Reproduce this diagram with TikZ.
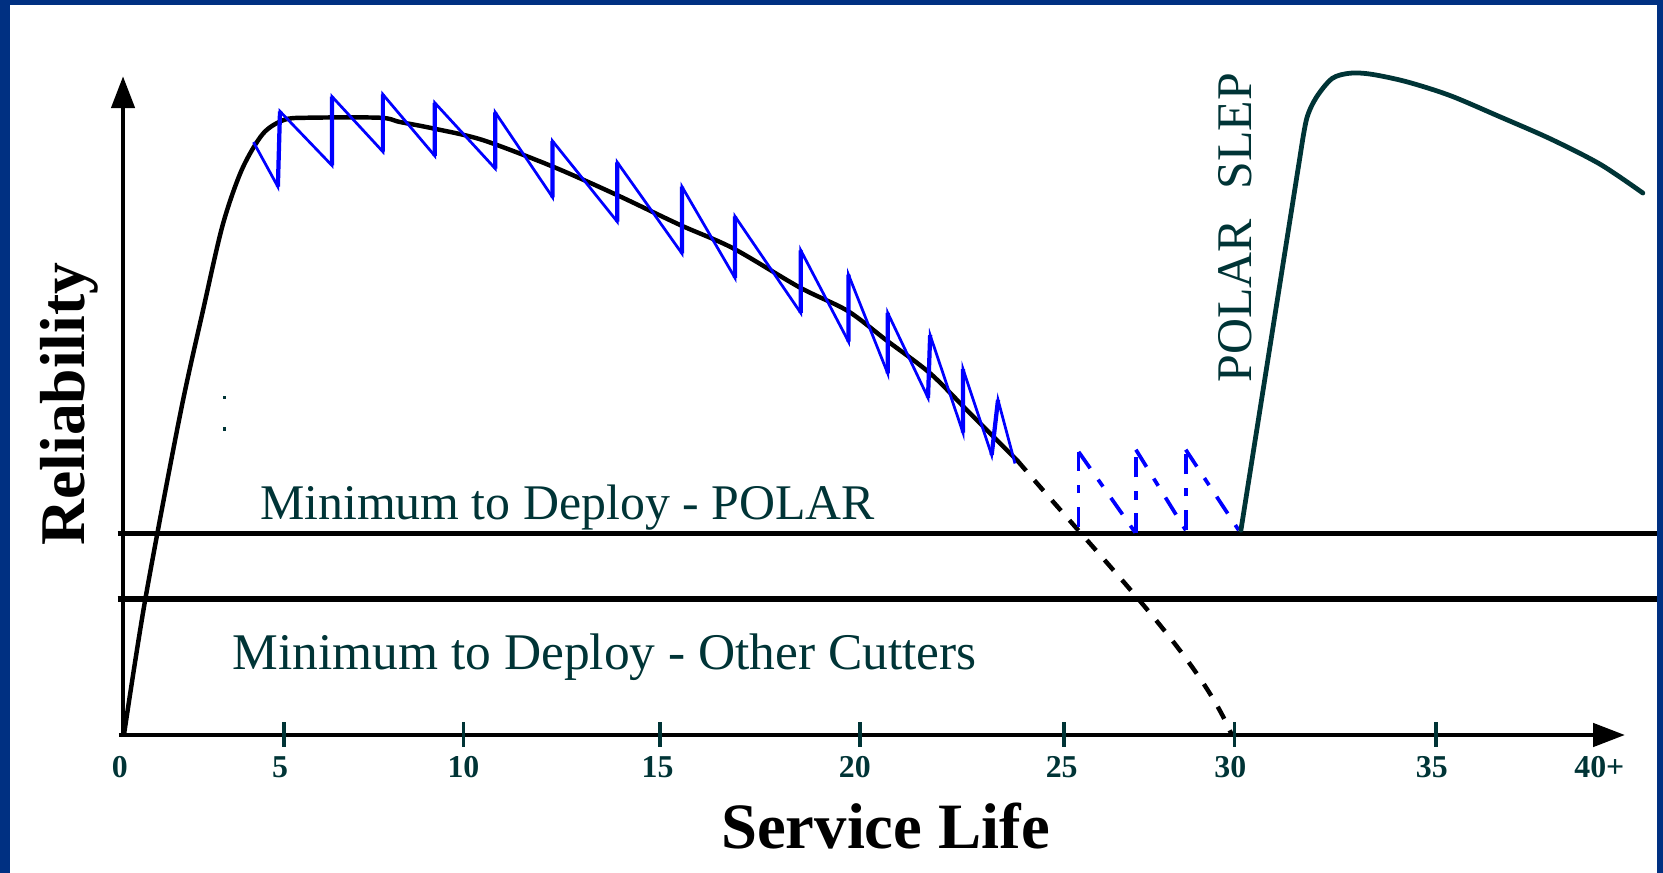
\documentclass[tikz,border=0pt]{standalone}
\usepackage{fontspec}
\setmainfont{Liberation Serif}
\usetikzlibrary{arrows.meta}
\definecolor{navyframe}{RGB}{0,48,130}
\definecolor{darkteal}{RGB}{0,52,54}
\definecolor{pureblue}{RGB}{0,0,255}
\begin{document}
\begin{tikzpicture}[x=1pt,y=-1pt,
  axisline/.style={line width=3.5pt,black},
  minline/.style={line width=5.5pt,black},
  tickmark/.style={line width=3.5pt,darkteal},
  ticklabel/.style={font=\fontsize{30}{32}\selectfont\bfseries,text=darkteal,anchor=base,inner sep=0pt},
  mintext/.style={font=\fontsize{47}{50}\selectfont,text=darkteal,anchor=base west,inner sep=0pt},
  lifecurve/.style={line width=4.2pt,black,line join=round,line cap=round},
  lifedash/.style={line width=4.2pt,black,dash pattern=on 13pt off 12pt},
  saw/.style={line width=2.6pt,pureblue,line join=miter},
  sawup/.style={line width=4pt,pureblue},
  sawdash/.style={line width=3.5pt,pureblue,dash pattern=on 19pt off 13pt on 8pt off 13pt},
  slep/.style={line width=4.5pt,darkteal,line join=round,line cap=round},
  arrowtip/.style={-{Triangle[length=30pt,width=22pt]}}
]
\useasboundingbox (0,0) rectangle (1568,823);
% frame
\fill[navyframe] (0,0) rectangle (9,823);
\fill[navyframe] (0,0) rectangle (1568,5);
\fill[navyframe] (1562,0) rectangle (1568,823);

% axes
\coordinate (O) at (116,693);
\coordinate (ytop) at (116,72);
\coordinate (xend) at (1532,693);
\coordinate (xstart) at (112,693);
\draw[axisline,arrowtip] (116,695) -- (ytop);
\draw[axisline,arrowtip] (xstart) -- (xend);

% minimum lines
\coordinate (pa) at (111,503);
\coordinate (pb) at (1562,503);
\coordinate (oa) at (111,565);
\coordinate (ob) at (1562,565);
\draw[minline] (pa) -- (pb);
\draw[minline] (oa) -- (ob);

% ticks
\foreach \x in {268,437,622,811,1003,1164,1354}
  \draw[tickmark] (\x,681) -- (\x,704);

% tick labels
\node[ticklabel] (t0) at (113,733) {0};
\node[ticklabel] (t5) at (264,733) {5};
\node[ticklabel] (t10) at (437,733) {10};
\node[ticklabel] (t15) at (620,733) {15};
\node[ticklabel] (t20) at (806,733) {20};
\node[ticklabel] (t25) at (1001,733) {25};
\node[ticklabel] (t30) at (1160,733) {30};
\node[ticklabel] (t35) at (1350,733) {35};
\node[ticklabel] (t40) at (1508,733) {40+};

% axis titles
\node[font=\fontsize{61}{64}\selectfont\bfseries,anchor=base,inner sep=0pt] (xt) at (835,800) {Service Life};
\node[font=\fontsize{60}{64}\selectfont\bfseries,anchor=base,rotate=90,inner sep=0pt] (yt) at (80,381) {Reliability};

% minimum texts
\node[mintext] (mp) at (245,490) {Minimum to Deploy - POLAR};
\node[mintext,font=\fontsize{48.5}{50}\selectfont] (mo) at (219,631) {Minimum to Deploy - Other Cutters};

% POLAR SLEP label
\node[font=\fontsize{47}{50}\selectfont,text=darkteal,anchor=base west,rotate=90,inner sep=0pt] (ps) at (1180,361) {POLAR\hspace{28pt}SLEP};

% tiny dots
\fill[darkteal] (210,373) rectangle (213,376);
\fill[darkteal] (210,403) rectangle (213,406);

% reliability curve
\draw[lifecurve] plot[smooth,tension=0.5] coordinates {
  (117,692) (137,565) (170,390) (192,290) (210,212) (228,160) (248,126)
  (268,113) (290,111) (358,111) (377,115) (408,121)
  (455,132) (521,157) (582,184) (641,212) (691,234) (754,271) (799,293)
  (836,321) (877,352) (912,387) (959,434)};
\draw[lifedash] (959,434) .. controls (1050,540) and (1130,620) .. (1161,692);

% maintenance sawtooth
\draw[saw] (239,134) -- (262,176) -- (264,105) -- (313,156) -- (313,91)
  -- (361,143) -- (361,89) -- (410,147) -- (410,97) -- (467,159) -- (467,106)
  -- (521,186) -- (521,133) -- (582,209) -- (582,153) -- (643,239) -- (643,176)
  -- (693,262) -- (693,204) -- (755,295) -- (755,236) -- (800,322) -- (800,259)
  -- (837,352) -- (837,295) -- (875,375) -- (877,316) -- (908,408) -- (908,348)
  -- (935,429) -- (941,377) -- (957,437);
\draw[sawup] (262,176) -- (264,105) (313,156) -- (313,91) (361,143) -- (361,89)
  (410,147) -- (410,97) (467,159) -- (467,106) (521,186) -- (521,133)
  (582,209) -- (582,153) (643,239) -- (643,176) (693,262) -- (693,204)
  (755,295) -- (755,236) (800,322) -- (800,259) (837,352) -- (837,295)
  (875,375) -- (877,316) (908,408) -- (908,348) (935,429) -- (941,377);

% dashed sawtooth
\draw[sawdash] (1017,497) -- (1017,426);
\draw[sawdash] (1017,426) -- (1071,503);
\draw[sawdash] (1071,503) -- (1071,424);
\draw[sawdash] (1071,424) -- (1118,500);
\draw[sawdash] (1118,500) -- (1118,424);
\draw[sawdash] (1118,424) -- (1168,500);

% SLEP curve
\draw[slep] (1170,500) -- (1226,146)
  plot[smooth,tension=0.5] coordinates {(1226,146) (1232,112) (1241,92) (1256,74)
  (1273,69) (1293,70) (1326,77) (1367,90) (1414,110) (1462,131) (1509,155) (1549,182)};
\end{tikzpicture}
\end{document}
